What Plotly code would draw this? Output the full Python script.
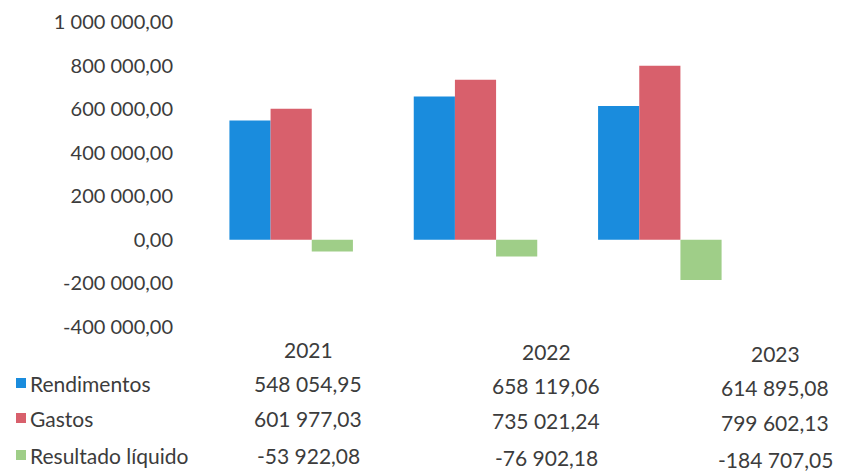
import plotly.graph_objects as go

years = ["2021", "2022", "2023"]
rendimentos = [548054.95, 658119.06, 614895.08]
gastos = [601977.03, 735021.24, 799602.13]
resultado = [-53922.08, -76902.18, -184707.05]
series_names = ["Rendimentos", "Gastos", "Resultado líquido"]
series_colors = ["#1A8CDD", "#D8606C", "#9FCE88"]
y_ticks = [-400000, -200000, 0, 200000, 400000, 600000, 800000, 1000000]

def fmt(v):
    s = f"{v:,.2f}"
    return s.replace(",", " ").replace(".", ",")

OFF = 8  # page body margin
W, H = 851 - OFF, 473 - OFF
PL, PR, PT, PB = 199 - OFF, 752 - OFF, 22 - OFF, 327 - OFF

def px(x):
    return (x - OFF - PL) / (PR - PL)

def py(y):
    return (PB - (y - OFF)) / (PB - PT)

FONT = "Lato, 'Open Sans', sans-serif"
TXT = "#3c3c3c"

fig = go.Figure()
for name, vals, col in zip(series_names, [rendimentos, gastos, resultado], series_colors):
    fig.add_trace(go.Bar(x=years, y=vals, name=name, marker_color=col,
                         marker_line_width=0, showlegend=False))

annotations = []
shapes = []
col_x = [308, 546, 775]
year_y = [349, 351, 353]
row_y = [383, 418, 455]
all_vals = [rendimentos, gastos, resultado]
for ci, yr in enumerate(years):
    annotations.append(dict(x=px(col_x[ci]), y=py(year_y[ci]), xref="paper", yref="paper",
                            text=yr, showarrow=False, xanchor="center", yanchor="middle",
                            font=dict(family=FONT, size=21, color=TXT)))
    for ri in range(3):
        annotations.append(dict(x=px(col_x[ci]), y=py(row_y[ri] + ci * 2), xref="paper", yref="paper",
                                text=fmt(all_vals[ri][ci]), showarrow=False,
                                xanchor="center", yanchor="middle",
                                font=dict(family=FONT, size=21, color=TXT)))
for ri, (name, col) in enumerate(zip(series_names, series_colors)):
    annotations.append(dict(x=px(28), y=py(row_y[ri]), xref="paper", yref="paper",
                            text=name, showarrow=False, xanchor="left", yanchor="middle",
                            font=dict(family=FONT, size=21, color=TXT)))
    shapes.append(dict(type="rect", xref="paper", yref="paper",
                       x0=px(16), x1=px(26), y0=py(row_y[ri] + 5), y1=py(row_y[ri] - 5),
                       fillcolor=col, line=dict(width=0)))

fig.update_layout(
    width=W, height=H,
    margin=dict(l=PL, r=W - PR, t=PT, b=H - PB, pad=0, autoexpand=False),
    paper_bgcolor="white", plot_bgcolor="white",
    barmode="group", bargap=0.33, bargroupgap=0,
    font=dict(family=FONT, size=20, color=TXT),
    xaxis=dict(showticklabels=False, showgrid=False, zeroline=False, showline=False, ticks="",
               automargin=False),
    yaxis=dict(range=[-400000, 1000000], tickvals=y_ticks, ticktext=[fmt(v) for v in y_ticks],
               showgrid=False, zeroline=False, showline=False, ticks="", automargin=False,
               ticklabelstandoff=25, tickfont=dict(family=FONT, size=20, color=TXT)),
    annotations=annotations, shapes=shapes,
)
fig.write_html("out.html")
